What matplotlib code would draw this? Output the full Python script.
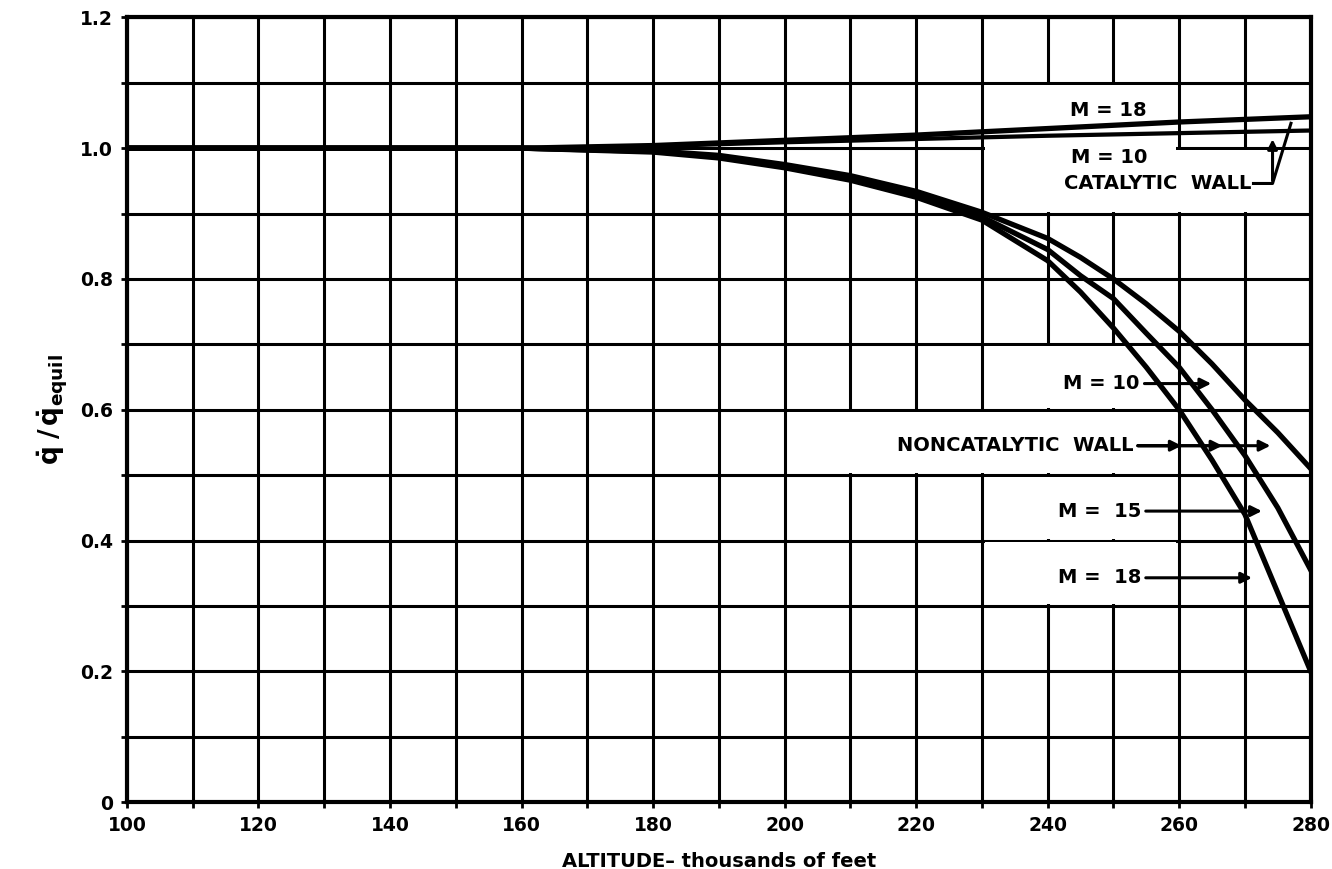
import matplotlib.pyplot as plt
from matplotlib.patches import Rectangle
from matplotlib.ticker import MultipleLocator, FixedFormatter, FixedLocator

# altitude (thousands of feet)
alt_cat = [100, 160, 180, 200, 220, 240, 260, 280]
m18_cat = [1.0, 1.0, 1.004, 1.012, 1.020, 1.030, 1.040, 1.048]
m10_cat = [1.0, 1.0, 1.003, 1.009, 1.014, 1.019, 1.023, 1.027]

alt_non = [100, 160, 180, 190, 200, 210, 220, 230, 240, 245, 250, 255, 260, 265, 270, 275, 280]
m10_non = [1.0, 1.0, 0.996, 0.989, 0.975, 0.958, 0.934, 0.902, 0.862, 0.833, 0.800, 0.762, 0.720, 0.670, 0.615, 0.565, 0.510]
m15_non = [1.0, 1.0, 0.995, 0.987, 0.972, 0.954, 0.929, 0.895, 0.845, 0.805, 0.770, 0.717, 0.665, 0.600, 0.530, 0.450, 0.355]
m18_non = [1.0, 1.0, 0.994, 0.985, 0.970, 0.951, 0.925, 0.890, 0.828, 0.780, 0.725, 0.665, 0.600, 0.523, 0.440, 0.320, 0.200]

x_ticks = [100, 120, 140, 160, 180, 200, 220, 240, 260, 280]
y_ticks = [0, 0.2, 0.4, 0.6, 0.8, 1.0, 1.2]
y_tick_labels = ['0', '0.2', '0.4', '0.6', '0.8', '1.0', '1.2']

fig = plt.figure(figsize=(13.32, 8.69), dpi=100)
ax = fig.add_axes([0.0953, 0.077, 0.8887, 0.903])

ax.set_xlim(100, 280)
ax.set_ylim(0, 1.2)

ax.xaxis.set_major_locator(FixedLocator(x_ticks))
ax.xaxis.set_minor_locator(MultipleLocator(10))
ax.yaxis.set_major_locator(FixedLocator(y_ticks))
ax.yaxis.set_major_formatter(FixedFormatter(y_tick_labels))
ax.yaxis.set_minor_locator(MultipleLocator(0.1))
ax.grid(which='both', color='black', lw=2.2, zorder=1)
ax.set_axisbelow(True)
ax.tick_params(which='both', length=4, width=2, direction='out', pad=6)
for lab in ax.get_xticklabels() + ax.get_yticklabels():
    lab.set_fontsize(13.5)
    lab.set_fontweight('bold')
for sp in ax.spines.values():
    sp.set_linewidth(3)

# white label areas (the chart lettering blanks out the grid behind it)
blanks = [
    (230.5, 0.903, 29, 0.101),   # catalytic label
    (250.5, 0.903, 29, 0.094),
    (230.5, 1.003, 29, 0.094),   # M = 18 catalytic
    (230.5, 0.603, 29, 0.094),   # M = 10 noncatalytic
    (200.5, 0.503, 59, 0.094),   # NONCATALYTIC WALL
    (230.5, 0.403, 29, 0.094),   # M = 15
    (230.5, 0.303, 29, 0.094),   # M = 18
]
for bx, by, bw, bh in blanks:
    ax.add_patch(Rectangle((bx, by), bw, bh, facecolor='white', edgecolor='none', zorder=1.5))

lw = 3.8
ax.plot(alt_cat, m18_cat, color='black', lw=lw, zorder=3)
ax.plot(alt_cat, m10_cat, color='black', lw=lw * 0.8, zorder=3)
ax.plot(alt_non, m10_non, color='black', lw=lw, zorder=3)
ax.plot(alt_non, m15_non, color='black', lw=lw, zorder=3)
ax.plot(alt_non, m18_non, color='black', lw=lw, zorder=3)

tkw = dict(fontsize=14, fontweight='bold', zorder=4)
ax.text(249.2, 1.058, 'M = 18', ha='center', va='center', **tkw)
ax.text(249.4, 0.985, 'M = 10', ha='center', va='center', **tkw)
ax.text(271.0, 0.946, 'CATALYTIC  WALL', ha='right', va='center', **tkw)

ax.text(254.0, 0.640, 'M = 10', ha='right', va='center', **tkw)
ax.text(253.0, 0.545, 'NONCATALYTIC  WALL', ha='right', va='center', **tkw)
ax.text(254.2, 0.445, 'M =  15', ha='right', va='center', **tkw)
ax.text(254.2, 0.343, 'M =  18', ha='right', va='center', **tkw)

# catalytic bracket
ax.plot([271.3, 274.2, 277.0], [0.946, 0.946, 1.038], color='black', lw=2.2, zorder=4)
ax.annotate('', xy=(274.2, 1.018), xytext=(274.2, 0.946),
            arrowprops=dict(arrowstyle='-|>', color='black', lw=2.2, mutation_scale=14), zorder=4)

aprops = dict(arrowstyle='-|>', color='black', lw=2.2, mutation_scale=16)
ax.annotate('', xy=(265.3, 0.640), xytext=(254.3, 0.640), arrowprops=aprops, zorder=4)
for xh in [260.8, 267.0, 274.3]:
    ax.annotate('', xy=(xh, 0.545), xytext=(253.3, 0.545), arrowprops=aprops, zorder=4)
ax.annotate('', xy=(273.0, 0.445), xytext=(254.5, 0.445), arrowprops=aprops, zorder=4)
ax.annotate('', xy=(271.5, 0.343), xytext=(254.5, 0.343), arrowprops=aprops, zorder=4)

ax.set_xlabel('ALTITUDE\u2013 thousands of feet', fontsize=14, fontweight='bold', labelpad=12)
ax.set_ylabel(r'$\mathbf{\dot{q}\;/\,\dot{q}_{equil}}$', fontsize=19, labelpad=8)

fig.savefig('out.png', dpi=100)
